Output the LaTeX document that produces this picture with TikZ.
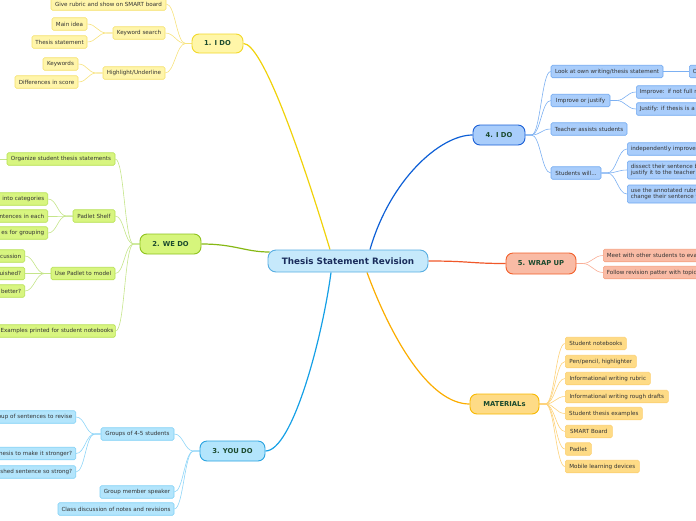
\documentclass[tikz,border=0pt]{standalone}
\usepackage{fontspec}
\setmainfont{DejaVu Sans}
\usetikzlibrary{calc}
\pgfdeclarelayer{bg}
\pgfsetlayers{bg,main}
\definecolor{subtxt}{HTML}{333333}
\definecolor{brtxt}{HTML}{1B4A2E}
\definecolor{ctxt}{HTML}{1A2D5C}
% yellow
\definecolor{yf}{HTML}{FFF6A8}\definecolor{ye}{HTML}{F2D82A}\definecolor{ysf}{HTML}{FFF5AA}\definecolor{yse}{HTML}{F5E06A}\definecolor{yl}{HTML}{F7E27C}\definecolor{ym}{HTML}{F0D20A}
% green
\definecolor{gf}{HTML}{D6F57C}\definecolor{ge}{HTML}{8EC21E}\definecolor{gsf}{HTML}{D8F580}\definecolor{gse}{HTML}{B5E050}\definecolor{gl}{HTML}{C5E58A}\definecolor{gm}{HTML}{86B814}
% light blue
\definecolor{lf}{HTML}{B3E5FC}\definecolor{le}{HTML}{29A3E0}\definecolor{lsf}{HTML}{B3E5FC}\definecolor{lse}{HTML}{7FD0F5}\definecolor{ll}{HTML}{8ED5F8}\definecolor{lm}{HTML}{15A0E6}
% blue
\definecolor{df}{HTML}{A9CDFB}\definecolor{de}{HTML}{1A5FD6}\definecolor{dsf}{HTML}{A9CDFB}\definecolor{dse}{HTML}{6FA8F0}\definecolor{dl}{HTML}{7CB0F2}\definecolor{dm}{HTML}{0D5FD6}
% red
\definecolor{rf}{HTML}{F9BBA5}\definecolor{re}{HTML}{F25F2A}\definecolor{rsf}{HTML}{F9BBA5}\definecolor{rse}{HTML}{F5A080}\definecolor{rl}{HTML}{F9AD95}\definecolor{rm}{HTML}{F0582A}
% orange
\definecolor{of}{HTML}{FEDB86}\definecolor{oe}{HTML}{F8B800}\definecolor{osf}{HTML}{FEDB86}\definecolor{ose}{HTML}{FCD070}\definecolor{ol}{HTML}{FDD27A}\definecolor{om}{HTML}{FBAD00}
% center
\definecolor{cf}{HTML}{C6E9FB}\definecolor{ce}{HTML}{58AEE2}

\tikzset{
  sub/.style={draw, rounded corners=1.5, line width=0.6pt, minimum height=12.5, inner xsep=2, inner ysep=1,
    font=\fontsize{5.6}{6.4}\selectfont, text=subtxt},
  br/.style={draw, rounded corners=7, line width=0.9pt, inner sep=1, minimum height=20,
    font=\fontsize{6.8}{8}\selectfont\bfseries, text=brtxt},
  ysub/.style={sub, fill=ysf, draw=yse}, gsub/.style={sub, fill=gsf, draw=gse},
  lsub/.style={sub, fill=lsf, draw=lse}, dsub/.style={sub, fill=dsf, draw=dse},
  rsub/.style={sub, fill=rsf, draw=rse}, osub/.style={sub, fill=osf, draw=ose},
  lcut/.style={anchor=east, text width=80, align=right, inner xsep=3.5},
  rcut/.style={anchor=west, text width=140, align=left, inner xsep=3.5},
  lnk/.style={line width=0.6pt},
  mainln/.style={line width=1.2pt},
}
\newcommand\lk[3]{\draw[lnk,#1] (#2.west) -- ++(-6,0) .. controls +(-9,0) and +(9,0) .. (#3.east);}
\newcommand\rk[3]{\draw[lnk,#1] (#2.east) -- ++(6,0) .. controls +(9,0) and +(-9,0) .. (#3.west);}

\begin{document}
\begin{tikzpicture}[x=1pt,y=-1pt]
\useasboundingbox (0,0) rectangle (696,520);
\clip (0,0) rectangle (696,520);

% center
\node[draw=ce, fill=cf, rounded corners=8, line width=0.9pt, minimum width=160, minimum height=22, inner sep=1,
  font=\fontsize{8.8}{10}\selectfont\bfseries, text=ctxt] (c) at (348,261) {Thesis Statement Revision};

% 1. I DO
\node[br, fill=yf, draw=ye, minimum width=51, minimum height=19] (ido1) at (217.5,43.5) {1. I DO};
\node[ysub, minimum width=115] (y1) at (108.5,4) {Give rubric and show on SMART board};
\node[ysub, minimum width=52] (y2) at (139,33) {Keyword search};
\node[ysub, minimum width=35] (y21) at (69.5,24) {Main idea};
\node[ysub, minimum width=55] (y22) at (59.5,42) {Thesis statement};
\node[ysub, minimum width=62] (y3) at (134,73) {Highlight/Underline};
\node[ysub, minimum width=35] (y31) at (60.5,64) {Keywords};
\node[ysub, minimum width=63] (y32) at (46.5,82) {Differences in score};

% 2. WE DO
\node[br, fill=gf, draw=ge, minimum width=61] (wedo) at (170.5,244) {2. WE DO};
\node[gsub, minimum width=108] (g1) at (61,159) {Organize student thesis statements};
\coordinate (goff) at (-20,159);
\node[gsub, minimum width=42] (g2) at (94,216) {Padlet Shelf};
\node[gsub, lcut] (g21) at (48,199) {s into categories};
\node[gsub, lcut] (g22) at (48,216) {ntences in each};
\node[gsub, lcut] (g23) at (48,233) {es for grouping};
\node[gsub, minimum width=64] (g3) at (83,273.5) {Use Padlet to model};
\node[gsub, lcut] (g31) at (25,256) {cussion};
\node[gsub, lcut] (g32) at (25,273.5) {uished?};
\node[gsub, lcut] (g33) at (25,291) {better?};
\node[gsub, minimum width=116] (g4) at (57,331) {Examples printed for student notebooks};

% 3. YOU DO
\node[br, fill=lf, draw=le, minimum width=65] (youdo) at (232.5,451) {3. YOU DO};
\node[lsub, minimum width=73] (b1) at (137.5,434) {Groups of 4-5 students};
\node[lsub, lcut] (b11) at (76,417) {oup of sentences to revise};
\node[lsub, lcut] (b12) at (76,453.5) {hesis to make it stronger?};
\node[lsub, lcut] (b13) at (76,472) {ished sentence so strong?};
\node[lsub, minimum width=74] (b2) at (137,492) {Group member speaker};
\node[lsub, minimum width=116] (b3) at (116,509) {Class discussion of notes and revisions};

% 4. I DO
\node[br, fill=df, draw=de, minimum width=52] (ido4) at (499,135) {4. I DO};
\node[dsub, minimum width=112] (d1) at (607,71.5) {Look at own writing/thesis statement};
\node[dsub, rcut] (d11) at (689,71.5) {O};
\node[dsub, minimum width=59] (d2) at (580.5,100.5) {Improve or justify};
\node[dsub, rcut] (d21) at (636,92) {Improve: if not full m};
\node[dsub, rcut] (d22) at (636,109) {Justify: if thesis is a};
\node[dsub, minimum width=76] (d3) at (589,129) {Teacher assists students};
\node[dsub, minimum width=50] (d4) at (576,173) {Students will...};
\node[dsub, rcut] (d41) at (627,149) {independently improve};
\node[dsub, rcut, minimum height=18] (d42) at (627,170) {dissect their sentence b\\justify it to the teacher};
\node[dsub, rcut, minimum height=18] (d43) at (627,194) {use the annotated rubr\\change their sentence f};

% 5. WRAP UP
\node[br, fill=rf, draw=re, minimum width=70, minimum height=21] (wrap) at (541,263.5) {5. WRAP UP};
\node[rsub, rcut] (r1) at (603,255.5) {Meet with other students to eval};
\node[rsub, rcut] (r2) at (603,272.5) {Follow revision patter with topic};

% MATERIALs
\node[br, fill=of, draw=oe, minimum width=69] (mat) at (504.5,404) {MATERIALs};
\node[osub, anchor=west, minimum width=61] (m1) at (565,343.5) {Student notebooks};
\node[osub, anchor=west, minimum width=71] (m2) at (565,361.5) {Pen/pencil, highlighter};
\node[osub, anchor=west, minimum width=85] (m3) at (565,378.5) {Informational writing rubric};
\node[osub, anchor=west, minimum width=103] (m4) at (565,396.5) {Informational writing rough drafts};
\node[osub, anchor=west, minimum width=77] (m5) at (565,413.5) {Student thesis examples};
\node[osub, anchor=west, minimum width=47] (m6) at (565,431.5) {SMART Board};
\node[osub, anchor=west, minimum width=26] (m7) at (565,449) {Padlet};
\node[osub, anchor=west, minimum width=74] (m8) at (565,466.5) {Mobile learning devices};

\begin{pgfonlayer}{bg}
% main branches
\draw[mainln, ym] (ido1.east) .. controls (262,43.5) and (300,150) .. ($(c.north)+(-18,0)$);
\draw[mainln, gm] (wedo.east) .. controls (235,244) and (245,252) .. ($(c.west)+(2,-9)$);
\draw[mainln, lm] ($(c.south)+(-17,0)$) .. controls (322,340) and (292,451) .. (youdo.east);
\draw[mainln, dm] ($(c.north)+(22,0)$) .. controls (390,180) and (440,135) .. (ido4.west);
\draw[mainln, rm] (c.east) .. controls (470,261) and (470,263.5) .. (wrap.west);
\draw[mainln, om] ($(c.south)+(19,0)$) .. controls (392,340) and (430,404) .. (mat.west);
% 1
\lk{yl}{ido1}{y1}\lk{yl}{ido1}{y2}\lk{yl}{ido1}{y3}
\lk{yl}{y2}{y21}\lk{yl}{y2}{y22}\lk{yl}{y3}{y31}\lk{yl}{y3}{y32}
% 2
\lk{gl}{wedo}{g1}\lk{gl}{wedo}{g2}\lk{gl}{wedo}{g3}\lk{gl}{wedo}{g4}
\draw[lnk, gl] (g1.west) -- (goff);
\lk{gl}{g2}{g21}\lk{gl}{g2}{g22}\lk{gl}{g2}{g23}
\lk{gl}{g3}{g31}\lk{gl}{g3}{g32}\lk{gl}{g3}{g33}
% 3
\lk{ll}{youdo}{b1}\lk{ll}{youdo}{b2}\lk{ll}{youdo}{b3}
\lk{ll}{b1}{b11}\lk{ll}{b1}{b12}\lk{ll}{b1}{b13}
% 4
\rk{dl}{ido4}{d1}\rk{dl}{ido4}{d2}\rk{dl}{ido4}{d3}\rk{dl}{ido4}{d4}
\draw[lnk, dl] (d1.east) -- (d11.west);
\rk{dl}{d2}{d21}\rk{dl}{d2}{d22}
\rk{dl}{d4}{d41}\rk{dl}{d4}{d42}\rk{dl}{d4}{d43}
% 5
\rk{rl}{wrap}{r1}\rk{rl}{wrap}{r2}
% materials
\rk{ol}{mat}{m1}\rk{ol}{mat}{m2}\rk{ol}{mat}{m3}\rk{ol}{mat}{m4}
\rk{ol}{mat}{m5}\rk{ol}{mat}{m6}\rk{ol}{mat}{m7}\rk{ol}{mat}{m8}
\end{pgfonlayer}
\end{tikzpicture}
\end{document}
